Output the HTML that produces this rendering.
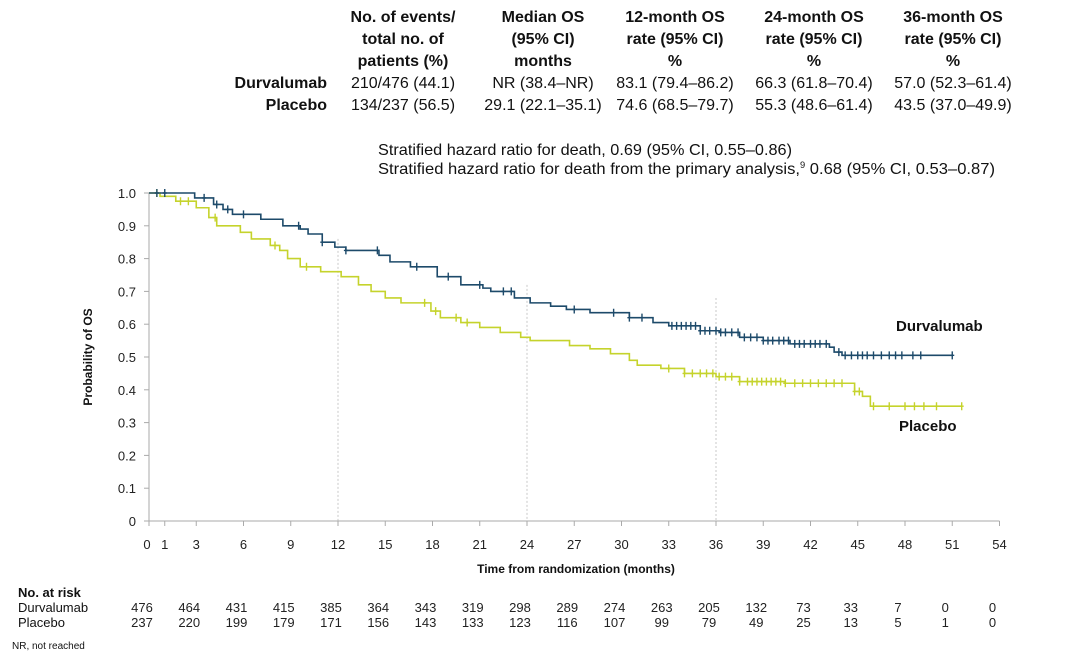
<!DOCTYPE html>
<html><head><meta charset="utf-8"><style>
body{margin:0;background:#fff;width:1080px;height:653px;overflow:hidden}
svg{display:block;font-family:"Liberation Sans",Arial,sans-serif}
</style></head><body>
<svg id="chart" width="1080" height="653">
<g font-size="16" fill="#111" text-anchor="middle">
 <g font-weight="bold">
  <text x="403" y="22">No. of events/</text><text x="403" y="44">total no. of</text><text x="403" y="66">patients (%)</text>
  <text x="543" y="22">Median OS</text><text x="543" y="44">(95% CI)</text><text x="543" y="66">months</text>
  <text x="675" y="22">12-month OS</text><text x="675" y="44">rate (95% CI)</text><text x="675" y="66">%</text>
  <text x="814" y="22">24-month OS</text><text x="814" y="44">rate (95% CI)</text><text x="814" y="66">%</text>
  <text x="953" y="22">36-month OS</text><text x="953" y="44">rate (95% CI)</text><text x="953" y="66">%</text>
 </g>
 <text x="327" y="88" text-anchor="end" font-weight="bold">Durvalumab</text>
 <text x="327" y="110" text-anchor="end" font-weight="bold">Placebo</text>
 <text x="403" y="88">210/476 (44.1)</text><text x="543" y="88">NR (38.4–NR)</text><text x="675" y="88">83.1 (79.4–86.2)</text><text x="814" y="88">66.3 (61.8–70.4)</text><text x="953" y="88">57.0 (52.3–61.4)</text>
 <text x="403" y="110">134/237 (56.5)</text><text x="543" y="110">29.1 (22.1–35.1)</text><text x="675" y="110">74.6 (68.5–79.7)</text><text x="814" y="110">55.3 (48.6–61.4)</text><text x="953" y="110">43.5 (37.0–49.9)</text>
</g>
<text x="378" y="155" font-size="16" fill="#111" textLength="414" lengthAdjust="spacingAndGlyphs">Stratified hazard ratio for death, 0.69 (95% CI, 0.55–0.86)</text>
<text x="378" y="174" font-size="16" fill="#111" textLength="617" lengthAdjust="spacingAndGlyphs">Stratified hazard ratio for death from the primary analysis,<tspan font-size="9" dy="-6">9</tspan><tspan dy="6"> 0.68 (95% CI, 0.53–0.87)</tspan></text>
<g id="plot"></g>
<text x="18" y="597" font-size="13" font-weight="bold" fill="#111">No. at risk</text>
<text x="18" y="612" font-size="13" fill="#111">Durvalumab</text>
<text x="18" y="627" font-size="13" fill="#111">Placebo</text>
<text x="12" y="649" font-size="10" fill="#111">NR, not reached</text>
</svg>
<script>
const xTicks=[0,1,3,6,9,12,15,18,21,24,27,30,33,36,39,42,45,48,51,54];
const yTicks=[0,0.1,0.2,0.3,0.4,0.5,0.6,0.7,0.8,0.9,1.0];
const riskTimes=[0,3,6,9,12,15,18,21,24,27,30,33,36,39,42,45,48,51,54];
const riskDurva=[476,464,431,415,385,364,343,319,298,289,274,263,205,132,73,33,7,0,0];
const riskPlacebo=[237,220,199,179,171,156,143,133,123,116,107,99,79,49,25,13,5,1,0];
const durvaT=[0,2.9,4.1,4.7,5.3,7.1,8.5,9.6,10.1,11,11.8,12.5,14.6,15.3,16.6,18.3,19.8,21.2,21.7,23.2,24.2,25.5,26.5,28,30.5,32,33,35,36.2,37.5,39,40.7,43.2,43.5,44,51];
const durvaS=[1,0.985,0.965,0.95,0.935,0.92,0.90,0.89,0.875,0.85,0.835,0.825,0.81,0.79,0.775,0.745,0.72,0.71,0.70,0.68,0.665,0.655,0.645,0.635,0.62,0.605,0.595,0.58,0.575,0.56,0.55,0.54,0.53,0.515,0.505,0.505];
const placT=[0,0.7,1.7,3,3.8,4.3,5.8,6.5,7.7,8.3,8.8,9.6,10.9,12.2,13.3,14.1,15,16,17.9,18.5,19.8,21,22.3,23.6,24.2,26.7,28,29.3,30.5,31,32.5,34,36,37.5,40.4,44.8,45.3,45.8,51.6];
const placS=[1,0.99,0.975,0.955,0.925,0.90,0.88,0.86,0.84,0.825,0.80,0.775,0.76,0.745,0.72,0.70,0.68,0.665,0.64,0.62,0.605,0.59,0.575,0.56,0.55,0.535,0.525,0.51,0.49,0.475,0.465,0.45,0.44,0.425,0.42,0.395,0.38,0.35,0.35];
const durvaCens=[0.5,1,3.5,4.3,5,6,9.5,11,12.5,14.5,17,19,21,22.5,23,27,29.5,30.5,31.3,33.2,33.5,33.8,34.1,34.4,34.7,35,35.3,35.6,36,36.3,36.6,37,37.4,37.8,38.2,38.6,39,39.3,39.6,40,40.3,40.6,41,41.3,41.6,42,42.3,42.6,43,43.8,44.2,44.6,45,45.3,45.6,46,46.5,47,47.4,47.8,48.5,49,51];
const placCens=[0.5,2,2.5,4.2,8,10,17.5,18.2,19.5,20.2,33,34,34.5,35,35.4,35.8,36.2,36.6,37,37.5,38,38.3,38.6,38.9,39.2,39.5,39.8,40.1,40.4,41,41.5,42,42.5,43,43.5,44,44.8,45.1,46,47,48,48.6,49.2,50,51.6];
const NS="http://www.w3.org/2000/svg";
const X0=149,PXM=15.75,Y0=521,PXP=328;
const xs=m=>X0+m*PXM, ys=p=>Y0-p*PXP;
const plot=document.getElementById('plot');
function mk(tag,attrs,parent){const e=document.createElementNS(NS,tag);for(const k in attrs)e.setAttribute(k,attrs[k]);(parent||plot).appendChild(e);return e;}
[12,24,36].forEach((m,i)=>{const tops=[0.86,0.72,0.68];
 const l=mk('line',{x1:xs(m),x2:xs(m),y1:ys(tops[i]),y2:Y0,stroke:'#c8c8c8','stroke-width':1,'stroke-dasharray':'2,2'});
 
 });
const ya=mk('line',{x1:X0,x2:X0,y1:ys(1),y2:Y0,stroke:'#aaa','stroke-width':1});


const xa=mk('line',{x1:X0,x2:xs(54),y1:Y0,y2:Y0,stroke:'#aaa','stroke-width':1});


yTicks.forEach(v=>{mk('line',{x1:X0-5,x2:X0,y1:ys(v),y2:ys(v),stroke:'#aaa'});
 const t=mk('text',{x:136,y:ys(v)+5,'text-anchor':'end','font-size':13,fill:'#222'});t.textContent=v===0?'0':v.toFixed(1);
 
 });
xTicks.forEach(v=>{mk('line',{x1:xs(v),x2:xs(v),y1:Y0,y2:Y0+5,stroke:'#aaa'});
 const t=mk('text',{x:xs(v)-(v===0?2:0),y:549,'text-anchor':'middle','font-size':13,fill:'#222'});t.textContent=v;
 
 });
const yt=mk('text',{x:0,y:0,transform:'translate(92,357) rotate(-90)','text-anchor':'middle','font-size':12,'font-weight':'bold',fill:'#111'});yt.textContent='Probability of OS';


const xt=mk('text',{x:576,y:573,'text-anchor':'middle','font-size':12,'font-weight':'bold',fill:'#111'});xt.textContent='Time from randomization (months)';


function stepPath(T,S){let d='M'+xs(T[0])+','+ys(S[0]);for(let i=1;i<T.length;i++){d+=' H'+xs(T[i])+' V'+ys(S[i]);}return d;}
function survAt(T,S,t){let s=S[0];for(let i=0;i<T.length;i++){if(T[i]<=t)s=S[i];}return s;}
function series(T,S,C,color,name){
 const p=mk('path',{d:stepPath(T,S),fill:'none',stroke:color,'stroke-width':1.6});
 
 
 C.forEach(c=>{const x=xs(c),y=ys(survAt(T,S,c));
  const m=mk('path',{d:`M${x},${y-4}V${y+4}M${x-2},${y}H${x+2}`,stroke:color,'stroke-width':1.4});
  
  });
}
series(placT,placS,placCens,'#c5d32c','placebo');
series(durvaT,durvaS,durvaCens,'#1d4a6a','durvalumab');
const l1=mk('text',{x:896,y:331,'font-size':15,'font-weight':'bold',fill:'#111'});l1.textContent='Durvalumab';


const l2=mk('text',{x:899,y:431,'font-size':15,'font-weight':'bold',fill:'#111'});l2.textContent='Placebo';


riskTimes.forEach((t,i)=>{
 const a=mk('text',{x:xs(t)-7,y:612,'text-anchor':'middle','font-size':13,fill:'#222'});a.textContent=riskDurva[i];
 
 
 const b=mk('text',{x:xs(t)-7,y:627,'text-anchor':'middle','font-size':13,fill:'#222'});b.textContent=riskPlacebo[i];
 
 
});
</script>
</body></html>
